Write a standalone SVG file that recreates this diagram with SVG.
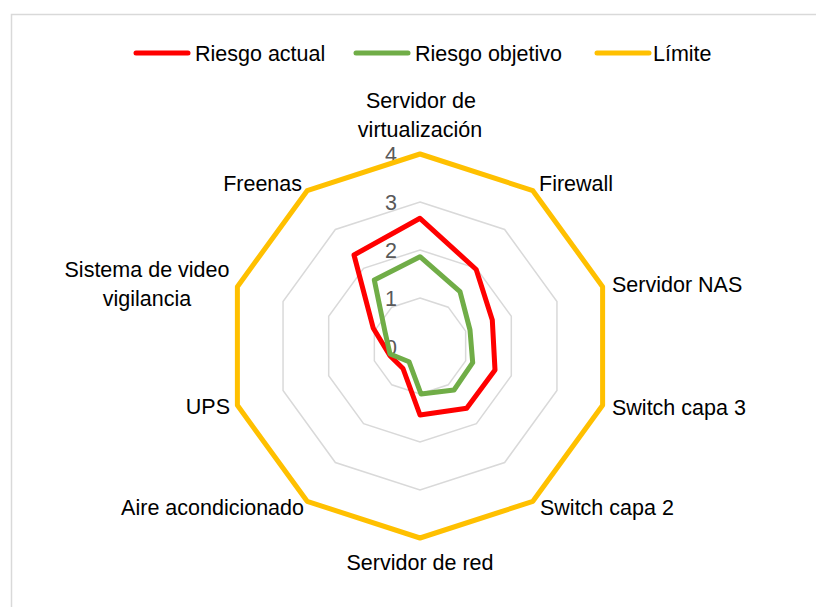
<svg xmlns="http://www.w3.org/2000/svg" width="816" height="607" viewBox="0 0 816 607">
<style>
text{font-family:"Liberation Sans",Arial,sans-serif;font-size:21.5px;fill:#000}
.tick{fill:#595959;text-anchor:end}
.ring{fill:none;stroke:#d9d9d9;stroke-width:1.5}
.ser{fill:none;stroke-width:5;stroke-linejoin:round;stroke-linecap:round}
.mid{text-anchor:middle}
.end{text-anchor:end}
</style>
<rect x="11.5" y="14.5" width="820" height="610" fill="#fff" stroke="#d9d9d9" stroke-width="1.5"/>
<g id="grid">
<polygon class="ring" points="420,298 448.21,307.17 465.65,331.17 465.65,360.83 448.21,384.83 420,394 391.79,384.83 374.35,360.83 374.35,331.17 391.79,307.17"/>
<polygon class="ring" points="420,250 476.43,268.34 511.31,316.34 511.31,375.66 476.43,423.66 420,442 363.57,423.66 328.69,375.66 328.69,316.34 363.57,268.34"/>
<polygon class="ring" points="420,202 504.64,229.5 556.96,301.5 556.96,390.5 504.64,462.5 420,490 335.36,462.5 283.04,390.5 283.04,301.5 335.36,229.5"/>
<polygon class="ring" points="420,154 532.86,190.67 602.61,286.67 602.61,405.33 532.86,501.33 420,538 307.14,501.33 237.39,405.33 237.39,286.67 307.14,190.67"/>
</g>
<g id="ticks">
<text class="tick" x="397" y="162">4</text>
<text class="tick" x="397" y="210">3</text>
<text class="tick" x="397" y="258">2</text>
<text class="tick" x="397" y="306">1</text>
<text class="tick" x="397" y="355">0</text>
</g>
<g id="series">
<polygon id="limite" class="ser" stroke="#FFC000" points="420,154 532.86,190.67 602.61,286.67 602.61,405.33 532.86,501.33 420,538 307.14,501.33 237.39,405.33 237.39,286.67 307.14,190.67"/>
<polygon id="riesgo-actual" class="ser" stroke="#FF0000" points="420,218.3 476.2,269.5 492.3,320 495,370 466.7,408.3 420,415 403,368.5 390,355.8 373.3,328.3 354,255"/>
<polygon id="riesgo-objetivo" class="ser" stroke="#70AD47" points="420,256.7 460,291.7 470,330 472.7,362.7 454,390 421,394 409,361.7 390,354 385,331.7 374.3,280"/>
</g>
<g id="labels">
<text class="mid" x="421" y="108">Servidor de</text>
<text class="mid" x="420" y="137">virtualización</text>
<text x="539" y="191">Firewall</text>
<text x="612" y="292">Servidor NAS</text>
<text x="612" y="415">Switch capa 3</text>
<text x="540" y="515">Switch capa 2</text>
<text class="mid" x="420" y="570">Servidor de red</text>
<text class="end" x="304" y="515">Aire acondicionado</text>
<text class="end" x="230" y="414">UPS</text>
<text class="mid" x="147" y="277">Sistema de video</text>
<text class="mid" x="147" y="306">vigilancia</text>
<text class="end" x="302" y="191">Freenas</text>
</g>
<g id="legend">
<line x1="136" y1="53" x2="188" y2="53" stroke="#FF0000" stroke-width="5" stroke-linecap="round"/>
<text x="195" y="61">Riesgo actual</text>
<line x1="356" y1="53" x2="408" y2="53" stroke="#70AD47" stroke-width="5" stroke-linecap="round"/>
<text x="415" y="61">Riesgo objetivo</text>
<line x1="597" y1="53" x2="649" y2="53" stroke="#FFC000" stroke-width="5" stroke-linecap="round"/>
<text x="653" y="61">Límite</text>
</g>
</svg>
